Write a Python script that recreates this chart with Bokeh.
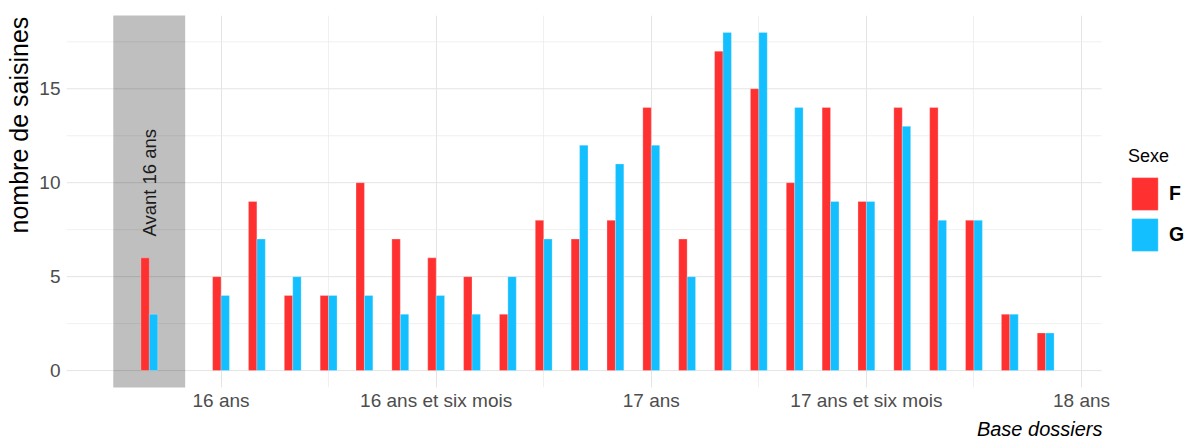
from math import pi
from bokeh.plotting import figure
from bokeh.models import (Range1d, FixedTicker, Legend, LegendItem, ColumnDataSource, Title)
from bokeh.transform import dodge
from bokeh.core.properties import value
from bokeh.embed import file_html
from bokeh.resources import INLINE

# ---- data ----
ages_months = [-2, 0, 1, 2, 3, 4, 5, 6, 7, 8, 9, 10, 11, 12, 13, 14, 15, 16, 17, 18, 19, 20, 21, 22, 23]
count_F = [6, 5, 9, 4, 4, 10, 7, 6, 5, 3, 8, 7, 8, 14, 7, 17, 15, 10, 14, 9, 14, 14, 8, 3, 2]
count_G = [3, 4, 7, 5, 4, 4, 3, 4, 3, 5, 7, 12, 11, 12, 5, 18, 18, 14, 9, 9, 13, 8, 8, 3, 2]
x_tick_values = [0, 6, 12, 18, 24]
x_tick_labels = ["16 ans", "16 ans et six mois", "17 ans", "17 ans et six mois", "18 ans"]
x_minor_values = [-3, 3, 9, 15, 21]
y_tick_values = [0, 5, 10, 15]
y_minor_values = [2.5, 7.5, 12.5, 17.5]
avant_band = [-3, -1]
avant_label = "Avant 16 ans"
avant_label_pos = (-2, 10)
y_title = "nombre de saisines"
caption_text = "Base dossiers"

FONT = "Liberation Sans"
RED = "#FF3030"
CYAN = "#14BFFF"
GRID = "#E4E4E4"
GRID_MINOR = "#ECECEC"

# panel extent (data units) of the ggplot-like panel
X_LO, X_HI = -4.31, 24.56
Y_LO, Y_HI = -0.9, 18.9
X_CANVAS_HI = 26.90  # extra room on the right for the legend

src = ColumnDataSource(dict(x=ages_months, F=count_F, G=count_G))

W, H = 1185, 443
p = figure(width=W, height=H, output_backend="svg", toolbar_location=None,
           x_range=Range1d(X_LO, X_CANVAS_HI), y_range=Range1d(Y_LO, Y_HI),
           min_border_left=66, min_border_right=0, min_border_top=15,
           min_border_bottom=H - 387)
p.outline_line_color = None
p.background_fill_color = "white"
p.border_fill_color = "white"

# vertical grid (library grid) ; horizontal grid drawn only over the panel width
p.xgrid.ticker = FixedTicker(ticks=x_tick_values, minor_ticks=x_minor_values)
p.xgrid.grid_line_color = GRID
p.xgrid.grid_line_width = 1
p.xgrid.minor_grid_line_color = GRID_MINOR
p.xgrid.minor_grid_line_width = 0.8
p.ygrid.grid_line_color = None

p.segment(x0=[X_LO] * len(y_minor_values), x1=[X_HI] * len(y_minor_values),
          y0=y_minor_values, y1=y_minor_values, line_color=GRID_MINOR, line_width=0.8)
p.segment(x0=[X_LO] * len(y_tick_values), x1=[X_HI] * len(y_tick_values),
          y0=y_tick_values, y1=y_tick_values, line_color=GRID, line_width=1)

# axes
p.xaxis.ticker = FixedTicker(ticks=x_tick_values)
p.xaxis.major_label_overrides = {v: l for v, l in zip(x_tick_values, x_tick_labels)}
p.yaxis.ticker = FixedTicker(ticks=y_tick_values)
for ax in (p.xaxis[0], p.yaxis[0]):
    ax.axis_line_color = None
    ax.major_tick_line_color = None
    ax.minor_tick_line_color = None
    ax.major_tick_out = 0
    ax.major_tick_in = 0
    ax.minor_tick_out = 0
    ax.minor_tick_in = 0
    ax.major_label_text_font = FONT
    ax.major_label_text_font_size = "19px"
    ax.major_label_text_color = "#4D4D4D"
p.xaxis.major_label_standoff = 2
p.yaxis.major_label_standoff = 6

# y title: top-aligned on the panel (leading no-break spaces push it up)
p.yaxis.axis_label = "\u00a0" * 22 + y_title
p.yaxis.axis_label_text_font = FONT
p.yaxis.axis_label_text_font_size = "25px"
p.yaxis.axis_label_text_font_style = "normal"
p.yaxis.axis_label_text_color = "black"
p.yaxis.axis_label_standoff = 3

# caption
caption = Title(text=caption_text, align="right", offset=W - 1102, standoff=4,
                text_font=FONT, text_font_size="20px", text_font_style="italic",
                text_color="black")
p.add_layout(caption, "below")

# grey band "Avant 16 ans"
p.quad(left=[avant_band[0]], right=[avant_band[1]], bottom=[Y_LO - 5], top=[Y_HI + 5],
       fill_color="black", fill_alpha=0.25, line_color=None)
p.text(x=[avant_label_pos[0]], y=[avant_label_pos[1]], text=[avant_label], angle=pi / 2,
       text_align="center", text_baseline="middle", text_font=value(FONT),
       text_font_size="18.5px", text_color="#1A1A1A")

bw = 0.235
rf = p.vbar(x=dodge("x", -bw / 2, range=p.x_range), top="F", width=bw, bottom=0, source=src,
            fill_color=RED, line_color="white", line_width=0.5, line_alpha=0.5)
rg = p.vbar(x=dodge("x", bw / 2, range=p.x_range), top="G", width=bw, bottom=0, source=src,
            fill_color=CYAN, line_color="white", line_width=0.5, line_alpha=0.5)

# legend (glyph area is inset by 10% on each side when drawn)
legend = Legend(items=[LegendItem(label="F", renderers=[rf]), LegendItem(label="G", renderers=[rg])],
                location=(1128 - 66, 387 - 255), title="Sexe",
                glyph_width=33, glyph_height=41, spacing=0, padding=0, margin=0,
                label_standoff=8, title_standoff=6,
                label_text_font=FONT, label_text_font_size="19.5px", label_text_font_style="bold",
                label_text_color="black",
                title_text_font=FONT, title_text_font_size="18px", title_text_font_style="normal",
                title_text_color="black",
                background_fill_alpha=0, border_line_alpha=0)
p.add_layout(legend)

open("out.html", "w").write(file_html(p, INLINE))
